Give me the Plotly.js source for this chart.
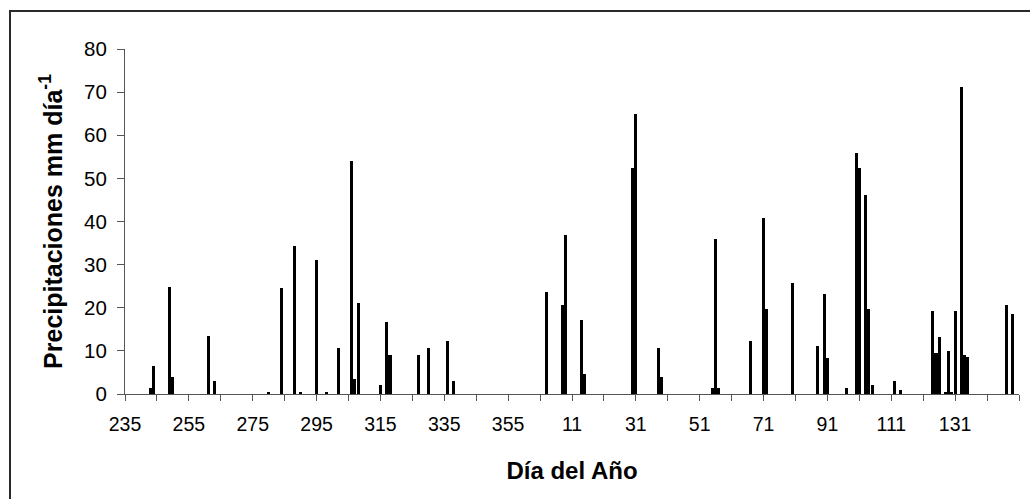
<!DOCTYPE html>
<html>
<head>
<meta charset="utf-8">
<script src="https://cdn.plot.ly/plotly-3.0.1.min.js"></script>
<style>
  html, body { margin: 0; padding: 0; background: #fff; overflow: hidden; }
  #wrap { position: relative; width: 1030px; height: 499px; overflow: hidden; }
  #chart { width: 1030px; height: 499px; }
  #marco { position: absolute; left: 9px; top: 10px; width: 1200px; height: 700px;
           border: 2px solid #2a2a2a; pointer-events: none; box-sizing: border-box; }
</style>
</head>
<body>
<div id="wrap">
  <div id="chart"></div>
  <div id="marco"></div>
</div>
<script>
// Sequential day (235 = day 235 of first year; values > 365 continue into the next year)
const diaSecuencial = [243, 244, 249, 250, 261, 263, 280, 284, 288, 290, 295, 298, 302, 306, 307, 308,
  315, 317, 318, 327, 330, 336, 338, 367, 372, 373, 378, 379, 394, 395, 402, 403,
  419, 420, 421, 431, 435, 436, 444, 452, 454, 455, 461, 464, 465, 467, 468, 469,
  476, 478, 488, 489, 490, 492, 493, 494, 495, 497, 498, 499, 511, 513];
const precipitacion = [1.3, 6.5, 24.9, 3.9, 13.5, 3.0, 0.5, 24.5, 34.3, 0.5, 31.0, 0.5, 10.7, 54.0, 3.5, 21.0,
  2.2, 16.8, 9.0, 9.0, 10.7, 12.4, 3.0, 23.6, 20.6, 36.8, 17.2, 4.7, 52.4, 65.0, 10.7, 3.9,
  1.3, 36.0, 1.3, 12.4, 40.7, 19.8, 25.8, 11.2, 23.1, 8.3, 1.3, 56.0, 52.3, 46.2, 19.8, 2.2,
  3.0, 0.9, 19.3, 9.6, 13.3, 0.5, 9.9, 0.5, 19.3, 71.1, 9.0, 8.6, 20.6, 18.5];

// Labelled ticks (every 20 days) and their labels
const posicionesEtiquetas = [235, 255, 275, 295, 315, 335, 355, 375, 395, 415, 435, 455, 475, 495];
const etiquetasTicks = ['235', '255', '275', '295', '315', '335', '355', '11', '31', '51', '71', '91', '111', '131'];
// Unlabelled tick marks in between
const posicionesMenores = [245, 265, 285, 305, 325, 345, 365, 385, 405, 425, 445, 465, 485, 505, 515];

const FONT = '"Liberation Sans", Arial, sans-serif';

const trace = {
  type: 'bar',
  x: diaSecuencial,
  y: precipitacion,
  width: 0.95,
  marker: { color: '#000000', line: { width: 0 } },
  hoverinfo: 'x+y'
};

const W = 1030, H = 499;
const L = 124.5, R = 10.5, T = 49.3, B = 105;

const layout = {
  width: W,
  height: H,
  margin: { l: L, r: R, t: T, b: B, pad: 0 },
  paper_bgcolor: '#ffffff',
  plot_bgcolor: '#ffffff',
  showlegend: false,
  font: { family: FONT, color: '#000', size: 19 },
  bargap: 0,
  xaxis: {
    range: [235, 515],
    tickmode: 'array',
    tickvals: posicionesEtiquetas,
    ticktext: etiquetasTicks,
    ticks: 'outside',
    ticklen: 6,
    tickwidth: 1,
    tickcolor: '#555',
    minor: { tickmode: 'array', tickvals: posicionesMenores, ticks: 'outside', ticklen: 6, tickwidth: 1, tickcolor: '#555', showgrid: false },
    showline: true,
    linecolor: '#555',
    linewidth: 1,
    showgrid: false,
    zeroline: false,
    tickfont: { family: FONT, size: 19.5, color: '#000' },
    ticklabelstandoff: 7,
    title: { text: '<b>Día del Año</b>', font: { family: FONT, size: 24, color: '#000' }, standoff: 27 }
  },
  yaxis: {
    range: [0, 80],
    dtick: 10,
    tick0: 0,
    ticks: 'outside',
    ticklen: 7,
    tickwidth: 1,
    tickcolor: '#555',
    showline: true,
    linecolor: '#555',
    linewidth: 1,
    showgrid: false,
    zeroline: false,
    tickfont: { family: FONT, size: 20.5, color: '#000' },
    ticklabelstandoff: 6,
    title: { text: '<b>Precipitaciones mm día<sup>-1</sup></b>', font: { family: FONT, size: 25, color: '#000' }, standoff: 14 }
  }
};

Plotly.newPlot('chart', [trace], layout, { displayModeBar: false, staticPlot: true });
</script>
</body>
</html>
